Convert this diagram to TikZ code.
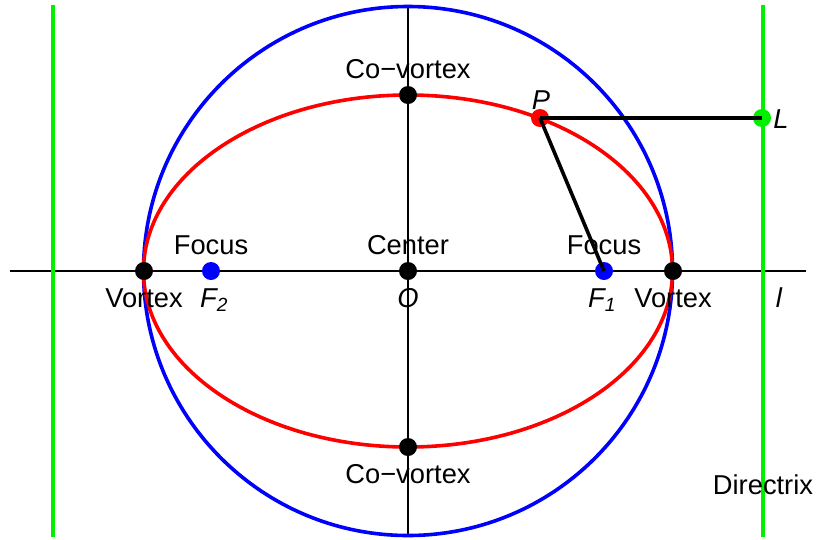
\documentclass[tikz,border=0pt]{standalone}
\usepackage{fontspec}
\setmainfont{Liberation Sans}
\begin{document}
\begin{tikzpicture}[x=1pt,y=-1pt,
  axis/.style={line width=1.7pt,black},
  curve/.style={line width=3.6pt},
  seg/.style={line width=3.6pt,black},
  dot/.style={circle,inner sep=0pt,minimum size=18pt},
  lbl/.style={font=\fontsize{27.3}{30}\selectfont,inner sep=0pt},
  ilbl/.style={font=\fontsize{27.3}{30}\selectfont\itshape,inner sep=0pt}]
\definecolor{grn}{RGB}{0,240,0}
\definecolor{blu}{RGB}{0,0,255}
\definecolor{rd}{RGB}{255,0,0}
\useasboundingbox (0,0) rectangle (817,539);
% coordinates
\coordinate (O) at (408,271);
\coordinate (xl) at (10,271);
\coordinate (xr) at (806,271);
\coordinate (yt) at (408,6);
\coordinate (yb) at (408,535);
\coordinate (d1t) at (53,5);
\coordinate (d1b) at (53,537);
\coordinate (d2t) at (763,5);
\coordinate (d2b) at (763,537);
% axes
\draw[axis] (xl) -- (xr);
\draw[axis] (yt) -- (yb);
% directrices
\draw[grn,line width=3.8pt] (d1t) -- (d1b);
\draw[grn,line width=3.8pt] (d2t) -- (d2b);
% circle and ellipse
\draw[blu,curve] (O) circle [radius=264.5];
\draw[rd,curve] (O) ellipse [x radius=264.5, y radius=176];
% points
\node[dot,fill=black] (V1) at (144,271) {};
\node[dot,fill=black] (V2) at (673,271) {};
\node[dot,fill=black] (C1) at (408,95) {};
\node[dot,fill=black] (C2) at (408,447) {};
\node[dot,fill=black] (Oc) at (408,271) {};
\node[dot,fill=blu] (F2) at (211,271) {};
\node[dot,fill=blu] (F1) at (604,271) {};
\node[dot,fill=rd] (P) at (540,118) {};
\node[dot,fill=grn] (L) at (762,118) {};
% segments
\draw[seg] (P.center) -- (F1.center);
\draw[seg] (P.center) -- (L.center);
% labels
\node[lbl] (tC1) at (408,69) {Co−vortex};
\node[lbl] (tC2) at (408,474) {Co−vortex};
\node[lbl] (tV1) at (144,298) {Vortex};
\node[lbl] (tV2) at (673,298) {Vortex};
\node[lbl] (tF2) at (211,245) {Focus};
\node[lbl] (tF1) at (604,245) {Focus};
\node[lbl] (tCen) at (408,245) {Center};
\node[ilbl] (tO) at (408,298) {O};
\node[ilbl] (tf2) at (214,300) {F\textsubscript{2}};
\node[ilbl] (tf1) at (602,300) {F\textsubscript{1}};
\node[ilbl] (tP) at (541,100) {P};
\node[ilbl] (tL) at (781,119) {L};
\node[ilbl] (tl) at (779,298) {l};
\node[lbl] (tD) at (763,485) {Directrix};
\end{tikzpicture}
\end{document}
